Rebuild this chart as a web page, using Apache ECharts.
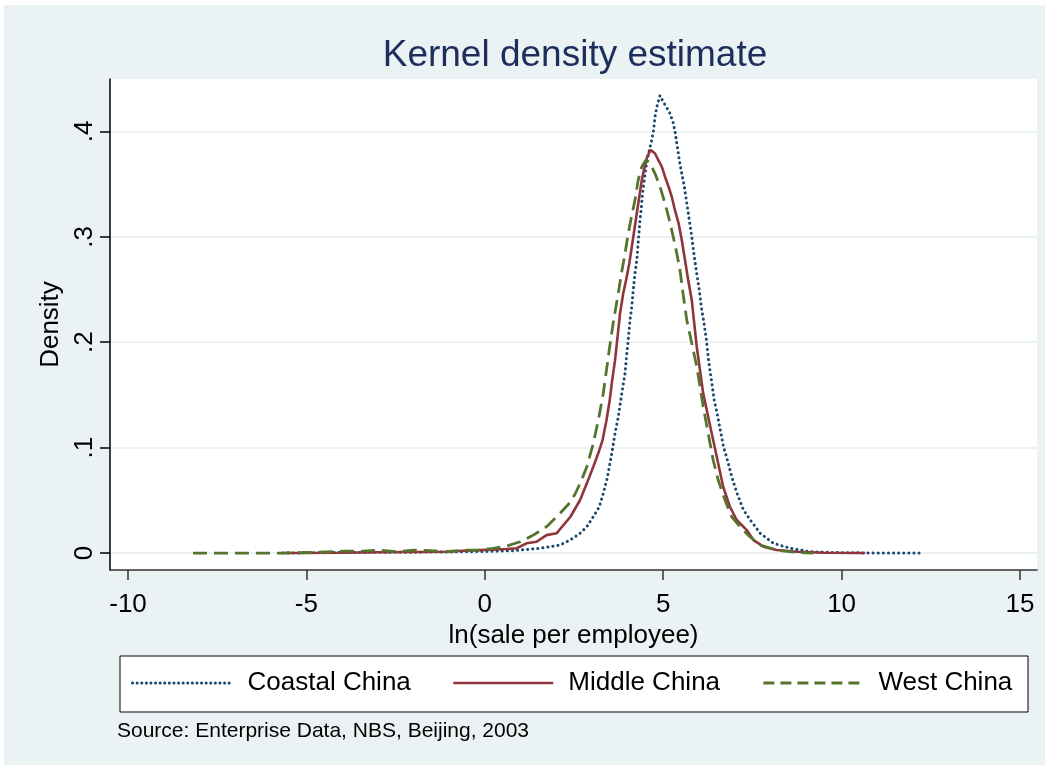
<!DOCTYPE html>
<html>
<head>
<meta charset="utf-8">
<script src="https://cdn.jsdelivr.net/npm/echarts@6/dist/echarts.min.js"></script>
<style>
html,body{margin:0;padding:0;background:#fff;}
#chart{width:1049px;height:770px;}
</style>
</head>
<body>
<div id="chart"></div>
<script>
// ---- data ----
const seriesNames = ['Coastal China', 'Middle China', 'West China'];
const xTicks = [-10, -5, 0, 5, 10, 15];
const xTickLabels = ['-10', '-5', '0', '5', '10', '15'];
const yTicks = [0, 0.1, 0.2, 0.3, 0.4];
const yTickLabels = ['0', '.1', '.2', '.3', '.4'];

const coastalX = [-5.66,-4,-2,-1,0,0.79,1.55,2.11,2.39,2.67,2.86,3.04,3.21,3.32,3.42,3.49,3.56,3.65,3.74,3.81,3.87,3.93,3.98,4.02,4.07,4.12,4.16,4.21,4.26,4.29,4.32,4.35,4.39,4.42,4.47,4.52,4.59,4.68,4.73,4.77,4.82,4.91,5.0,5.09,5.19,5.28,5.33,5.38,5.45,5.52,5.59,5.66,5.73,5.80,5.87,5.94,6.01,6.08,6.13,6.21,6.27,6.35,6.43,6.51,6.60,6.69,6.80,6.92,7.07,7.25,7.44,7.72,8.09,8.56,9.12,10,11,12.28];
const coastalY = [0,0.0005,0.0008,0.001,0.0015,0.0022,0.0045,0.0076,0.0123,0.0187,0.025,0.0344,0.0439,0.0566,0.0693,0.0819,0.0946,0.1136,0.129,0.145,0.158,0.1705,0.1895,0.202,0.221,0.2337,0.2495,0.2654,0.278,0.2906,0.3033,0.316,0.3286,0.341,0.354,0.3665,0.379,0.392,0.401,0.414,0.423,0.434,0.428,0.423,0.417,0.408,0.40,0.389,0.373,0.36,0.348,0.332,0.316,0.300,0.281,0.265,0.2495,0.2305,0.221,0.202,0.183,0.164,0.145,0.1325,0.1167,0.1009,0.088,0.0724,0.0566,0.0408,0.0313,0.0187,0.0092,0.0045,0.0012,0.0003,0,0];

const middleX = [-5.6,-4,-3,-2,-1.07,-0.61,-0.14,0.61,0.89,1.17,1.45,1.73,2.01,2.40,2.67,2.86,3.04,3.18,3.30,3.41,3.50,3.57,3.65,3.71,3.79,3.88,3.96,4.05,4.12,4.19,4.26,4.33,4.40,4.46,4.55,4.65,4.77,4.86,4.96,5.05,5.15,5.24,5.33,5.43,5.52,5.61,5.70,5.80,5.86,5.94,6.03,6.12,6.26,6.40,6.54,6.68,6.87,7.06,7.34,7.53,7.81,8.18,8.74,9.5,10.66];
const middleY = [0,0.0003,0.0008,0.001,0.0012,0.0022,0.0028,0.0038,0.0045,0.0092,0.0107,0.017,0.0187,0.0344,0.0503,0.0661,0.0819,0.0946,0.1072,0.126,0.145,0.164,0.183,0.202,0.2274,0.2464,0.259,0.2749,0.2906,0.3065,0.3223,0.338,0.354,0.3634,0.376,0.3824,0.379,0.373,0.3665,0.357,0.3475,0.338,0.325,0.313,0.297,0.278,0.259,0.24,0.221,0.1957,0.1736,0.1515,0.1293,0.1072,0.0851,0.0629,0.0439,0.0313,0.0218,0.0123,0.006,0.0028,0.0012,0.0003,0];

const westX = [-8.18,-5.74,-4.81,-3.87,-3.41,-2.94,-2.47,-2.00,-1.54,-1.07,-0.60,-0.13,0.24,0.61,0.99,1.36,1.73,2.11,2.39,2.53,2.67,2.86,3.04,3.18,3.32,3.41,3.50,3.61,3.74,3.83,3.93,4.02,4.11,4.21,4.30,4.40,4.52,4.63,4.77,4.91,5.05,5.15,5.28,5.38,5.47,5.56,5.66,5.80,5.94,6.03,6.12,6.26,6.40,6.54,6.73,6.92,7.15,7.43,7.71,8.18,8.74,9.2];
const westY = [0,0,0.0005,0.0019,0.0019,0.0028,0.0012,0.0028,0.0022,0.0012,0.0028,0.0028,0.0045,0.0066,0.0107,0.017,0.025,0.0377,0.048,0.056,0.066,0.0819,0.104,0.126,0.1515,0.1736,0.1957,0.221,0.2464,0.2654,0.2843,0.3033,0.319,0.335,0.354,0.3665,0.373,0.3697,0.36,0.3475,0.3318,0.319,0.30,0.2843,0.2685,0.245,0.221,0.199,0.1768,0.158,0.139,0.1136,0.0882,0.0693,0.0503,0.0344,0.025,0.0155,0.0076,0.0028,0.0005,0];

// ---- build ----
const zip = (xs, ys) => xs.map((x, i) => [x, ys[i]]);
const FONT = "'Liberation Sans', Arial, sans-serif";
const colors = ['#1a476f', '#90353b', '#55752f'];
const lineTypes = [[0.1, 5], 'solid', [14, 7]];
const lineWidths = [3, 2.6, 2.8];
const lineCaps = ['round', 'butt', 'butt'];
const datas = [zip(coastalX, coastalY), zip(middleX, middleY), zip(westX, westY)];

const chart = echarts.init(document.getElementById('chart'), null, {renderer: 'canvas'});

const legendLefts = [131, 452, 762];
const legendLineTypes = [[0.1, 4.5], 'solid', [11, 6]];

const option = {
  animation: false,
  backgroundColor: 'transparent',
  textStyle: {fontFamily: FONT},
  title: {
    text: 'Kernel density estimate',
    left: 570,
    top: 32,
    textAlign: 'center',
    textStyle: {fontFamily: FONT, fontSize: 37, fontWeight: 'normal', color: '#1e2e5c'}
  },
  graphic: [
    {type: 'rect', z: -10, silent: true, shape: {x: 4, y: 5, width: 1041, height: 760}, style: {fill: '#eaf2f3'}},
    {type: 'rect', z: 0, silent: true, shape: {x: 120, y: 656, width: 908, height: 56}, style: {fill: '#ffffff', stroke: '#000', lineWidth: 1}},
    {type: 'text', z: 5, silent: true, x: 117, y: 731, style: {text: 'Source: Enterprise Data, NBS, Beijing, 2003', fill: '#000', font: '21px ' + FONT, textVerticalAlign: 'middle'}}
  ],
  legend: seriesNames.map((n, i) => ({
    data: [n],
    left: legendLefts[i],
    top: 670,
    padding: 0,
    itemWidth: 100,
    itemHeight: 14,
    selectedMode: false,
    itemStyle: {opacity: 0},
    lineStyle: {type: legendLineTypes[i], width: lineWidths[i], cap: lineCaps[i], color: colors[i]},
    textStyle: {fontFamily: FONT, fontSize: 26, color: '#000', padding: [0, 0, 0, 10]}
  })),
  grid: {
    left: 110, right: 12, top: 79, bottom: 200,
    show: true, backgroundColor: '#ffffff', borderWidth: 0
  },
  xAxis: {
    type: 'value',
    min: -10.505, max: 15.476,
    name: 'ln(sale per employee)',
    nameLocation: 'middle',
    nameGap: 49,
    nameTextStyle: {fontFamily: FONT, fontSize: 26, color: '#000'},
    axisLine: {show: true, onZero: false, lineStyle: {color: '#333', width: 1.5}},
    axisTick: {show: true, length: 10, customValues: xTicks, lineStyle: {color: '#333', width: 1.5}},
    axisLabel: {
      customValues: xTicks, margin: 22, fontFamily: FONT, fontSize: 26, color: '#000',
      formatter: v => xTickLabels[xTicks.indexOf(v)] ?? ''
    },
    splitLine: {show: false}
  },
  yAxis: {
    type: 'value',
    min: -0.0161, max: 0.4497,
    name: 'Density',
    nameLocation: 'middle',
    nameRotate: 90,
    nameGap: 42,
    nameTextStyle: {fontFamily: FONT, fontSize: 26, color: '#000'},
    axisLine: {show: true, onZero: false, lineStyle: {color: '#000', width: 1.5}},
    axisTick: {show: true, length: 10, customValues: yTicks, lineStyle: {color: '#000', width: 1.5}},
    axisLabel: {
      customValues: yTicks, rotate: 90, margin: 12, fontFamily: FONT, fontSize: 26, color: '#000',
      formatter: v => yTickLabels[yTicks.indexOf(v)] ?? ''
    },
    splitLine: {show: true, lineStyle: {color: '#eaf2f3', width: 2}}
  },
  series: seriesNames.map((n, i) => ({
    name: n,
    type: 'line',
    data: datas[i],
    showSymbol: false,
    symbol: 'none',
    smooth: false,
    z: 2 + i,
    lineStyle: {color: colors[i], width: lineWidths[i], type: lineTypes[i], cap: lineCaps[i]},
    itemStyle: {color: colors[i]}
  }))
};
chart.setOption(option);
</script>
</body>
</html>
